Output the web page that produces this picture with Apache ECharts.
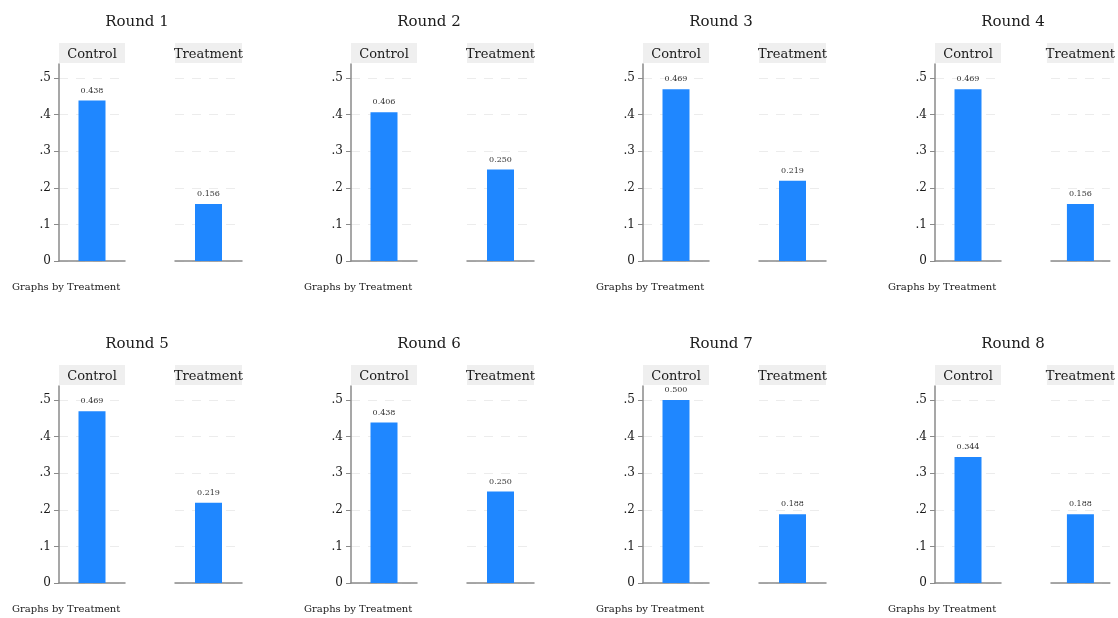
<!DOCTYPE html>
<html>
<head>
<meta charset="utf-8">
<script src="https://cdn.jsdelivr.net/npm/echarts@6/dist/echarts.min.js"></script>
<style>
  html, body { margin: 0; padding: 0; background: #fff; }
  #chart { width: 1118px; height: 618px; }
</style>
</head>
<body>
<div id="chart"></div>
<script>
// Share of subjects per group, by round
const rounds = ['Round 1', 'Round 2', 'Round 3', 'Round 4', 'Round 5', 'Round 6', 'Round 7', 'Round 8'];
const groups = ['Control', 'Treatment'];
const controlValues = [0.438, 0.406, 0.469, 0.469, 0.469, 0.438, 0.500, 0.344];
const treatmentValues = [0.156, 0.250, 0.219, 0.156, 0.219, 0.250, 0.188, 0.188];
const yTicks = [0, 0.1, 0.2, 0.3, 0.4, 0.5];
const byLabel = 'Graphs by Treatment';

const FONT = 'DejaVu Serif';
const BAR = '#1f87ff';
const AXIS = '#8a8a8a';

// layout of the 4 x 2 small-multiple arrangement
const COL_W = 292, ROW_H = 322;
const PANEL_LEFT = [59, 175];
const PANEL_W = [66, 67];
const PLOT_TOP = 64, PLOT_H = 197;
const Y_MAX = 0.538;

const grids = [], xAxes = [], yAxes = [], series = [], titles = [];

rounds.forEach((name, r) => {
  const col = r % 4, row = Math.floor(r / 4);
  const ox = col * COL_W, oy = row * ROW_H;
  const vals = [controlValues[r], treatmentValues[r]];

  titles.push({
    text: name, padding: 0,
    left: 137 + ox, top: 15 + oy, textAlign: 'center',
    textStyle: { fontFamily: FONT, fontSize: 15, fontWeight: 'normal', color: '#1a1a1a' }
  });
  titles.push({
    text: byLabel, padding: 0,
    left: 12 + ox, top: 282 + oy,
    textStyle: { fontFamily: FONT, fontSize: 10, fontWeight: 'normal', color: '#1a1a1a' }
  });

  groups.forEach((g, k) => {
    const gi = grids.length;
    grids.push({
      left: PANEL_LEFT[k] + ox, top: PLOT_TOP + oy,
      width: PANEL_W[k], height: PLOT_H, containLabel: false
    });
    // bottom axis: the baseline
    xAxes.push({
      gridIndex: gi, type: 'category', data: [g], position: 'bottom',
      axisLine: { show: true, lineStyle: { color: AXIS, width: 1.5 } },
      axisTick: { show: false }, axisLabel: { show: false }, splitLine: { show: false }
    });
    // top axis: the grey group strip
    xAxes.push({
      gridIndex: gi, type: 'category', data: [g], position: 'top',
      axisLine: { show: false }, axisTick: { show: false }, splitLine: { show: false },
      axisLabel: {
        margin: 1, fontFamily: FONT, fontSize: 13, color: '#1a1a1a',
        backgroundColor: '#efefef', width: PANEL_W[k], height: 17, lineHeight: 17,
        padding: [3, 0, 0, 0], align: 'center'
      }
    });
    yAxes.push({
      gridIndex: gi, type: 'value', min: 0, max: Y_MAX, interval: 0.1,
      axisLine: { show: k === 0, lineStyle: { color: AXIS, width: 1.5 } },
      axisTick: { show: k === 0, length: 5, customValues: yTicks, lineStyle: { color: AXIS } },
      axisLabel: {
        show: k === 0, customValues: yTicks, margin: 8,
        fontFamily: FONT, fontSize: 12, color: '#1a1a1a',
        formatter: v => (v === 0 ? '0' : String(+v.toFixed(1)).replace(/^0/, ''))
      },
      splitLine: { show: true, lineStyle: { color: '#ececec', width: 1, type: [9, 8] } }
    });
    series.push({
      type: 'bar', xAxisIndex: 2 * gi, yAxisIndex: gi,
      data: [vals[k]], barWidth: 27,
      itemStyle: { color: BAR },
      label: {
        show: true, position: 'top', distance: 6,
        fontFamily: FONT, fontSize: 8, color: '#333',
        formatter: p => p.value.toFixed(3)
      }
    });
  });
});

const chart = echarts.init(document.getElementById('chart'), null, { renderer: 'canvas' });
chart.setOption({
  animation: false,
  backgroundColor: '#fff',
  title: titles,
  grid: grids,
  xAxis: xAxes,
  yAxis: yAxes,
  series: series
});
</script>
</body>
</html>
